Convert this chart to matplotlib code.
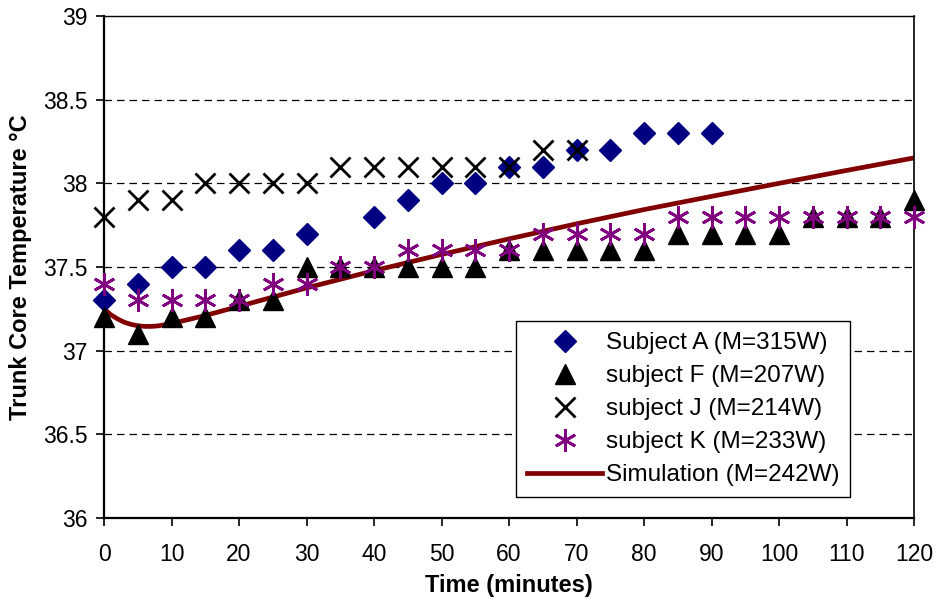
import numpy as np
import matplotlib
matplotlib.use('Agg')
import matplotlib.pyplot as plt
from matplotlib.lines import Line2D

plt.rcParams['font.family'] = ['Liberation Sans', 'DejaVu Sans']

# time axis for the measured subjects (minutes)
t = np.arange(0, 125, 5)

subject_a = [37.3, 37.4, 37.5, 37.5, 37.6, 37.6, 37.7, np.nan, 37.8, 37.9,
             38.0, 38.0, 38.1, 38.1, 38.2, 38.2, 38.3, 38.3, 38.3]
subject_f = [37.2, 37.1, 37.2, 37.2, 37.3, 37.3, 37.5, 37.5, 37.5, 37.5,
             37.5, 37.5, 37.6, 37.6, 37.6, 37.6, 37.6, 37.7, 37.7, 37.7,
             37.7, 37.8, 37.8, 37.8, 37.9]
subject_j = [37.8, 37.9, 37.9, 38.0, 38.0, 38.0, 38.0, 38.1, 38.1, 38.1,
             38.1, 38.1, 38.1, 38.2, 38.2]
subject_k = [37.4, 37.3, 37.3, 37.3, 37.3, 37.4, 37.4, 37.5, 37.5, 37.6,
             37.6, 37.6, 37.6, 37.7, 37.7, 37.7, 37.7, 37.8, 37.8, 37.8,
             37.8, 37.8, 37.8, 37.8, 37.8]

sim_t = [0, 1, 2, 3, 4, 5, 6, 7, 8, 10, 15, 20, 30, 40, 50, 60, 70, 80, 90, 100, 110, 120]
sim_v = [37.25, 37.215, 37.19, 37.17, 37.157, 37.149, 37.145, 37.145, 37.148, 37.162,
         37.21, 37.265, 37.375, 37.478, 37.575, 37.668, 37.758, 37.843, 37.922, 38.0,
         38.077, 38.152]

NAVY = '#000080'
PURPLE = '#800080'
MAROON = '#800000'

fig = plt.figure(figsize=(9.38, 6.05), dpi=100)
ax = fig.add_axes([104 / 938, 1 - 518 / 605, 810 / 938, 502 / 605])

ax.plot(sim_t, sim_v, color=MAROON, linewidth=3.4, zorder=2)
ax.plot(t[:len(subject_a)], subject_a, linestyle='none', marker='D', ms=11,
        color=NAVY, zorder=3, clip_on=False)
ax.plot(t[:len(subject_f)], subject_f, linestyle='none', marker='^', ms=14,
        color='black', zorder=3, clip_on=False)
ax.plot(t[:len(subject_j)], subject_j, linestyle='none', marker='x', ms=14.5,
        mew=2, color='black', zorder=4, clip_on=False)
ax.plot(t[:len(subject_k)], subject_k, linestyle='none', marker=(6, 2, 0), ms=16,
        mew=2, color=PURPLE, zorder=4, clip_on=False)

ax.set_xlim(0, 120)
ax.set_ylim(36, 39)
ax.set_xticks(np.arange(0, 121, 10))
ax.set_yticks(np.arange(36, 39.01, 0.5))
ax.set_yticklabels(['36', '36.5', '37', '37.5', '38', '38.5', '39'])
for yv in [36.5, 37, 37.5, 38, 38.5]:
    ax.axhline(yv, color='black', linestyle=(0, (6, 4)), linewidth=0.9, zorder=1)

ax.tick_params(direction='out', length=6, width=1.2, labelsize=16.5)
ax.tick_params(axis='x', pad=12)
ax.tick_params(axis='y', pad=6)
for s in ax.spines.values():
    s.set_linewidth(1.6)
ax.spines['top'].set_linewidth(1.0)
ax.spines['right'].set_linewidth(1.2)

ax.set_xlabel('Time (minutes)', fontsize=17, fontweight='bold', labelpad=6)
ax.set_ylabel('Trunk Core Temperature °C', fontsize=17, fontweight='bold', labelpad=8)

handles = [
    Line2D([], [], linestyle='none', marker='D', ms=11, color=NAVY),
    Line2D([], [], linestyle='none', marker='^', ms=14, color='black'),
    Line2D([], [], linestyle='none', marker='x', ms=14.5, mew=2, color='black'),
    Line2D([], [], linestyle='none', marker=(6, 2, 0), ms=16, mew=2, color=PURPLE),
    Line2D([], [], color=MAROON, linewidth=3.4),
]
labels = ['Subject A (M=315W)', 'subject F (M=207W)', 'subject J (M=214W)',
          'subject K (M=233W)', 'Simulation (M=242W)']
leg = ax.legend(handles, labels, loc='lower left', bbox_to_anchor=(412 / 810, 21 / 502),
                fontsize=17.5, frameon=True, fancybox=False, edgecolor='black',
                handlelength=3.1, handletextpad=0.15, labelspacing=0.45,
                borderpad=0.45, borderaxespad=0, framealpha=1)
leg.get_frame().set_linewidth(1.0)

fig.savefig('out.png', dpi=100, facecolor='white')
